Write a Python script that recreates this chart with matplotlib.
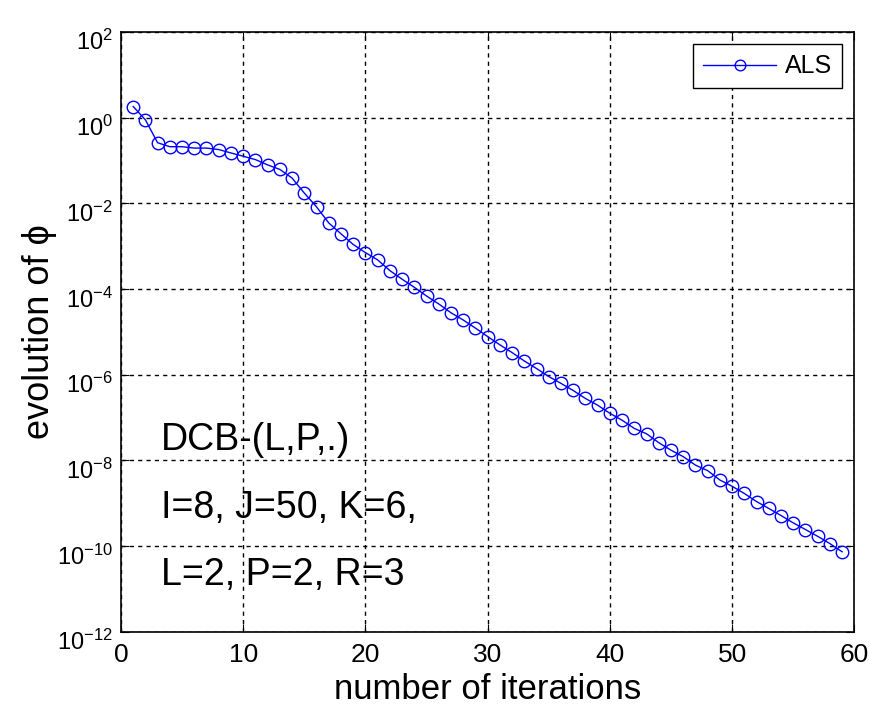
import numpy as np
import matplotlib
matplotlib.use("Agg")
import matplotlib.pyplot as plt
from matplotlib.transforms import ScaledTranslation

# ALS convergence (log scale)
iterations = np.arange(1, 60)
phi = np.array([
    1.82, 0.89, 0.26, 0.21, 0.21, 0.195, 0.195, 0.18, 0.15, 0.126,
    0.105, 0.079, 0.062, 0.039, 0.0174, 8.3e-3, 3.5e-3, 1.95e-3, 1.1e-3, 7.1e-4,
    4.8e-4, 2.7e-4, 1.7e-4, 1.1e-4, 6.9e-5, 4.5e-5, 2.8e-5, 1.9e-5, 1.23e-5, 7.8e-6,
    5.0e-6, 3.3e-6, 2.1e-6, 1.4e-6, 9.1e-7, 6.3e-7, 4.3e-7, 2.8e-7, 1.95e-7, 1.26e-7,
    8.7e-8, 5.6e-8, 4.2e-8, 2.6e-8, 1.74e-8, 1.23e-8, 7.8e-9, 5.8e-9, 3.5e-9, 2.5e-9,
    1.7e-9, 1.1e-9, 7.6e-10, 5.2e-10, 3.5e-10, 2.45e-10, 1.7e-10, 1.15e-10, 7.4e-11,
])
yticks = [1e2, 1e0, 1e-2, 1e-4, 1e-6, 1e-8, 1e-10, 1e-12]
ytick_labels = [r"$10^{2}$", r"$10^{0}$", r"$10^{-2}$", r"$10^{-4}$",
                r"$10^{-6}$", r"$10^{-8}$", r"$10^{-10}$", r"$10^{-12}$"]
xticks = [0, 10, 20, 30, 40, 50, 60]
notes = ["DCB-(L,P,.)", "I=8, J=50, K=6,", "L=2, P=2, R=3"]

plt.rcParams['font.family'] = ['Liberation Sans', 'DejaVu Sans']
plt.rcParams['mathtext.fontset'] = 'custom'
plt.rcParams['mathtext.rm'] = 'Liberation Sans'
plt.rcParams['mathtext.default'] = 'regular'

fig = plt.figure(figsize=(8.7, 7.1), dpi=100)
ax = fig.add_axes([0.139, 0.110, 0.843, 0.845])

ax.semilogy(iterations, phi, color='blue', lw=1, marker='o', ms=9,
            mfc='none', mec='blue', mew=1, label='ALS')

ax.set_xlim(0, 60)
ax.set_ylim(1e-12, 1e2)
ax.set_xticks(xticks)
ax.set_yticks(yticks)
ax.set_yticklabels(ytick_labels)
ax.minorticks_off()
ax.tick_params(direction='in', top=True, right=True, length=6)
ax.tick_params(axis='y', labelsize=17, pad=6)
ax.tick_params(axis='x', labelsize=19, pad=8)
# put the "10" of each label on its tick, exponent above (MATLAB look)
shift = ScaledTranslation(0, -6 / 72, fig.dpi_scale_trans)
for lab in ax.get_yticklabels():
    lab.set_transform(lab.get_transform() + shift)
ax.grid(True, color='black', ls=(0, (3, 3)), lw=1)
for s in ax.spines.values():
    s.set_linewidth(1.2)

ax.set_xlabel("number of iterations", fontsize=25, labelpad=4)
ax.set_ylabel("evolution of ϕ", fontsize=26, labelpad=0)

for txt, yy in zip(notes, [0.303, 0.19, 0.078]):
    ax.text(0.054, yy, txt, transform=ax.transAxes, fontsize=27, va='baseline')

leg = ax.legend(loc='upper right', fontsize=18, fancybox=False, framealpha=1,
                edgecolor='black', borderaxespad=0.5, handlelength=2.9,
                handletextpad=0.35, markerscale=0.85, borderpad=0.4)
leg.get_frame().set_linewidth(1)

fig.savefig("out.png", dpi=100, facecolor='white')
